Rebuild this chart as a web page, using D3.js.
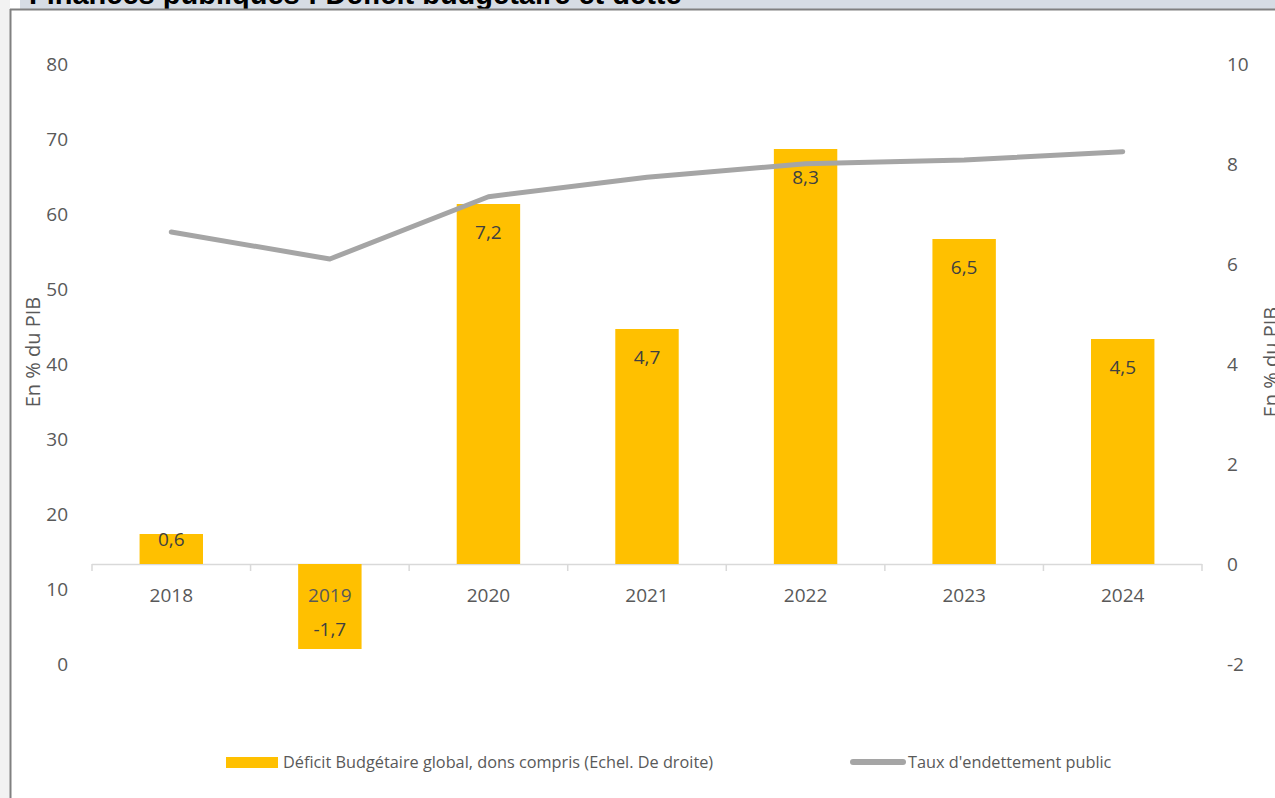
<!DOCTYPE html>
<html>
<head>
<meta charset="utf-8">
<script src="https://cdn.jsdelivr.net/npm/d3@7"></script>
<style>
  html, body { margin: 0; padding: 0; background: #ffffff; }
  svg { display: block; }
</style>
</head>
<body>
<svg id="chart" width="1275" height="798"></svg>
<script>
// ---- data ----
const years = ["2018", "2019", "2020", "2021", "2022", "2023", "2024"];
const deficit = [0.6, -1.7, 7.2, 4.7, 8.3, 6.5, 4.5];           // right axis
const dette = [57.6, 54.0, 62.3, 64.9, 66.7, 67.2, 68.3];       // left axis
const leftTicks = [0, 10, 20, 30, 40, 50, 60, 70, 80];
const rightTicks = [-2, 0, 2, 4, 6, 8, 10];
const title = "Finances publiques : Déficit budgétaire et dette";
const axisTitle = "En % du PIB";
const legendBar = "Déficit Budgétaire global, dons compris (Echel. De droite)";
const legendLine = "Taux d'endettement public";

const fmt = v => String(v.toFixed(1)).replace(".", ",");
const txt = "#595959";
const font = "'Open Sans', sans-serif";

const svg = d3.select("#chart");

// ---- page decoration ----
svg.append("rect").attr("x", 0).attr("y", 0).attr("width", 10).attr("height", 798).attr("fill", "#f2f2f2");
svg.append("rect").attr("x", 20).attr("y", 0).attr("width", 1255).attr("height", 9).attr("fill", "#d6dce4");
svg.append("text").attr("x", 29).attr("y", 4)
  .attr("font-family", "'Liberation Sans', Arial, sans-serif").attr("font-weight", "bold")
  .attr("font-size", 29).attr("fill", "#000").text(title);
svg.append("rect").attr("x", 11).attr("y", 10).attr("width", 1264).attr("height", 788).attr("fill", "#ffffff");
svg.append("line").attr("x1", 10).attr("x2", 1275).attr("y1", 9.5).attr("y2", 9.5).attr("stroke", "#808080").attr("stroke-width", 2);
svg.append("line").attr("x1", 10.5).attr("x2", 10.5).attr("y1", 9).attr("y2", 798).attr("stroke", "#808080").attr("stroke-width", 2);

// ---- scales ----
const x = d3.scaleBand().domain(years).range([92, 1202]).padding(0);
const yL = d3.scaleLinear().domain([0, 80]).range([664, 64]);
const yR = d3.scaleLinear().domain([-2, 10]).range([664, 64]);
const barW = x.bandwidth() * 0.4;
const cx = d => x(d) + x.bandwidth() / 2;

// ---- left axis ----
const gL = svg.append("g").attr("transform", "translate(76,0)")
  .call(d3.axisLeft(yL).tickValues(leftTicks).tickSize(0).tickPadding(8).tickFormat(d => String(d)));
gL.select(".domain").remove();
gL.selectAll("text").attr("font-family", font).attr("font-size", 19).attr("fill", txt);

// ---- right axis ----
const gR = svg.append("g").attr("transform", "translate(1219,0)")
  .call(d3.axisRight(yR).tickValues(rightTicks).tickSize(0).tickPadding(8).tickFormat(d => String(d)));
gR.select(".domain").remove();
gR.selectAll("text").attr("font-family", font).attr("font-size", 19).attr("fill", txt);

// ---- axis titles ----
svg.append("text").attr("transform", "translate(40,352) rotate(-90)")
  .attr("text-anchor", "middle").attr("font-family", font).attr("font-size", 20).attr("fill", txt).text(axisTitle);
svg.append("text").attr("transform", "translate(1278,362) rotate(-90)")
  .attr("text-anchor", "middle").attr("font-family", font).attr("font-size", 20).attr("fill", txt).text(axisTitle);

// ---- category axis line + boundary ticks ----
const zeroY = yR(0);
svg.append("line").attr("x1", 92).attr("x2", 1202).attr("y1", zeroY + 0.5).attr("y2", zeroY + 0.5)
  .attr("stroke", "#d9d9d9").attr("stroke-width", 1.5);
const bounds = years.map(d => x(d)).concat([x(years[years.length - 1]) + x.bandwidth()]);
svg.selectAll(".btick").data(bounds).enter().append("line")
  .attr("x1", d => d).attr("x2", d => d).attr("y1", zeroY).attr("y2", zeroY + 7)
  .attr("stroke", "#d9d9d9").attr("stroke-width", 1.5);

// ---- bars ----
svg.selectAll(".bar").data(years).enter().append("rect")
  .attr("x", d => cx(d) - barW / 2)
  .attr("width", barW)
  .attr("y", (d, i) => Math.min(yR(deficit[i]), zeroY))
  .attr("height", (d, i) => Math.abs(yR(deficit[i]) - zeroY))
  .attr("fill", "#FFC000");

// ---- category labels (over bars) ----
const gX = svg.append("g").attr("transform", `translate(0,${zeroY})`)
  .call(d3.axisBottom(x).tickSize(0).tickPadding(25));
gX.select(".domain").remove();
gX.selectAll("text").attr("font-family", font).attr("font-size", 19).attr("fill", txt);

// ---- debt line ----
const line = d3.line().x((d, i) => cx(years[i])).y(d => yL(d));
svg.append("path").datum(dette).attr("d", line)
  .attr("fill", "none").attr("stroke", "#A5A5A5").attr("stroke-width", 5)
  .attr("stroke-linecap", "round").attr("stroke-linejoin", "round");

// ---- bar value labels ----
svg.selectAll(".vlab").data(years).enter().append("text")
  .attr("x", d => cx(d))
  .attr("y", (d, i) => {
    const v = deficit[i];
    if (v >= 0) return Math.min(yR(v) + 28, zeroY - 25);
    return Math.max(yR(v) - 20, zeroY + 25);
  })
  .attr("dy", "0.35em")
  .attr("text-anchor", "middle").attr("font-family", font).attr("font-size", 19).attr("fill", "#404040")
  .text((d, i) => fmt(deficit[i]));

// ---- legend ----
const lg = svg.append("g");
lg.append("rect").attr("x", 226).attr("y", 757).attr("width", 52).attr("height", 11).attr("fill", "#FFC000");
lg.append("text").attr("x", 283).attr("y", 762).attr("dy", "0.35em")
  .attr("font-family", font).attr("font-size", 16.3).attr("fill", txt).text(legendBar);
lg.append("line").attr("x1", 853).attr("x2", 903).attr("y1", 762).attr("y2", 762)
  .attr("stroke", "#A5A5A5").attr("stroke-width", 6).attr("stroke-linecap", "round");
lg.append("text").attr("x", 908).attr("y", 762).attr("dy", "0.35em")
  .attr("font-family", font).attr("font-size", 16.3).attr("fill", txt).text(legendLine);
</script>
</body>
</html>
